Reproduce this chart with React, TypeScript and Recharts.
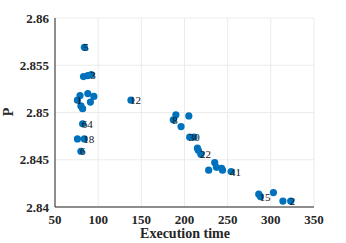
import { ScatterChart, Scatter, XAxis, YAxis, CartesianGrid } from "recharts";

const execTime = [84, 83, 88, 92, 76, 79, 88, 95, 91, 80, 82, 138, 82, 76, 84, 80, 190, 205, 187, 196, 206, 211, 215, 216, 219, 235, 237, 243, 244, 228, 254, 286, 288, 303, 314, 323];
const pValues = [2.8569, 2.8538, 2.8539, 2.854, 2.8513, 2.8518, 2.852, 2.8517, 2.8511, 2.8507, 2.8504, 2.8513, 2.8488, 2.8472, 2.8472, 2.8459, 2.84975, 2.84964, 2.84922, 2.84851, 2.84739, 2.84739, 2.84623, 2.846, 2.84559, 2.8447, 2.8442, 2.8441, 2.8439, 2.8439, 2.84375, 2.84136, 2.8411, 2.84153, 2.84063, 2.84063];
const pointLabels = ["5", "", "", "3", "1", "", "", "", "", "", "", "12", "64", "", "18", "6", "", "", "8", "", "30", "", "", "", "22", "", "", "", "", "", "41", "", "15", "", "", "2"];

const xTicks = [50, 100, 150, 200, 250, 300, 350];
const yTicks = [2.84, 2.845, 2.85, 2.855, 2.86];

const data = execTime.map((x, i) => ({ x, p: pValues[i], label: pointLabels[i] }));

const FONT = "'Liberation Serif', 'Times New Roman', serif";
const INK = "#262626";

// text drawn as a second series so it sits on top of all dots
const LabelShape = (props: any) => {
  const { cx, cy, payload } = props;
  if (!payload || !payload.label) return <g />;
  return (
    <text x={cx - 1} y={cy + 4} fontSize={11} fontFamily={FONT} fill="#111">
      {payload.label}
    </text>
  );
};

const Dot = (props: any) => {
  const { cx, cy } = props;
  return <circle cx={cx} cy={cy} r={3.6} fill="#0072BD" />;
};

const XTick = (props: any) => {
  const { x, y, payload } = props;
  return (
    <text x={x} y={y + 12} textAnchor="middle" fontSize={13} fontWeight="bold" fontFamily={FONT} fill={INK}>
      {payload.value}
    </text>
  );
};

const YTick = (props: any) => {
  const { x, y, payload } = props;
  return (
    <text x={x - 1} y={y + 4.5} textAnchor="end" fontSize={13} fontWeight="bold" fontFamily={FONT} fill={INK}>
      {String(+Number(payload.value).toFixed(3))}
    </text>
  );
};

export default function App() {
  return (
    <div style={{ position: "absolute", left: 0, top: 0, background: "#fff", fontFamily: FONT }}>
      <ScatterChart width={346} height={243} margin={{ top: 18, right: 32, bottom: 0, left: 0 }}>
        <CartesianGrid stroke="#ebebeb" strokeWidth={1} />
        <XAxis
          type="number"
          dataKey="x"
          domain={[50, 350]}
          ticks={xTicks}
          height={36}
          stroke={INK}
          tickSize={3}
          tickLine={{ stroke: "none" }}
          tick={<XTick />}
        />
        <YAxis
          type="number"
          dataKey="p"
          domain={[2.84, 2.86]}
          ticks={yTicks}
          width={55}
          stroke={INK}
          tickSize={3}
          tickLine={{ stroke: "none" }}
          tick={<YTick />}
        />
        <Scatter data={data} shape={<Dot />} isAnimationActive={false} />
        <Scatter data={data} shape={<LabelShape />} isAnimationActive={false} />
        <text x={185} y={238} textAnchor="middle" fontSize={14} fontWeight="bold" fontFamily={FONT} fill={INK}>
          Execution time
        </text>
        <text x={13} y={112} textAnchor="middle" fontSize={14} fontWeight="bold" fontFamily={FONT} fill={INK} transform="rotate(-90 13 112)">
          P
        </text>
      </ScatterChart>
    </div>
  );
}
